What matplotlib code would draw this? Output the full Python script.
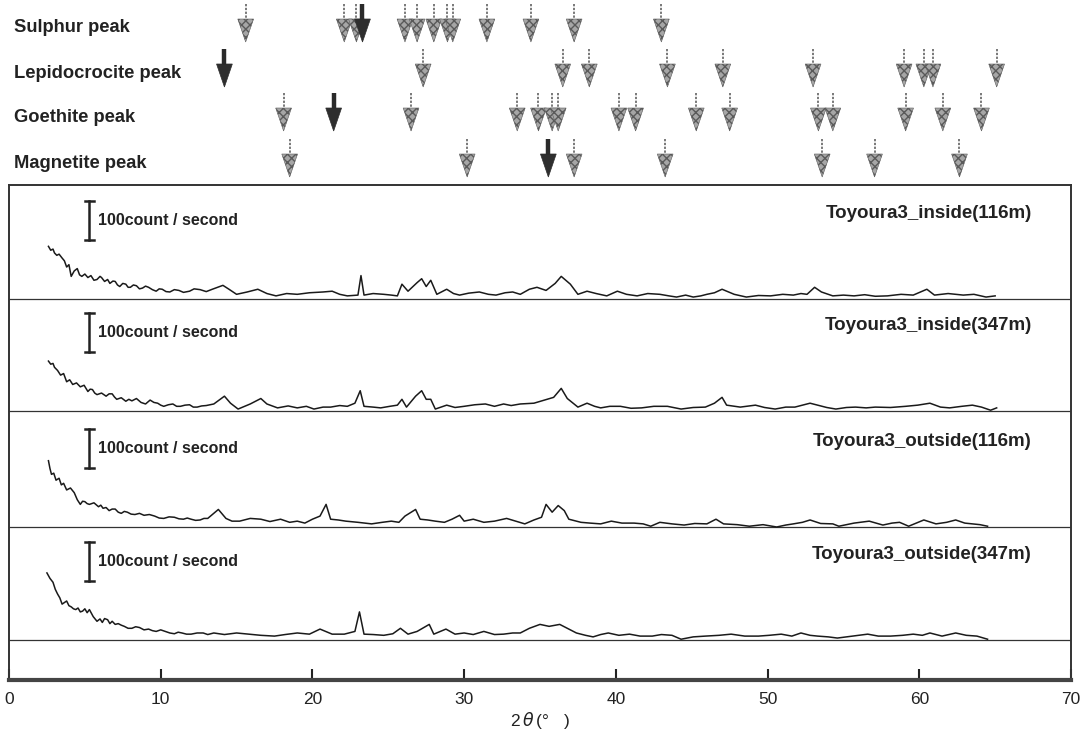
import matplotlib.pyplot as plt
from matplotlib.patches import Polygon

# ---------------------------------------------
# 1. Data (2theta in degrees, intensity in count/second above each baseline)

sample_names = ["Toyoura3_inside(116m)", "Toyoura3_inside(347m)",
                "Toyoura3_outside(116m)", "Toyoura3_outside(347m)"]

theta_in116 = [2.6, 2.75, 2.9, 3.0, 3.15, 3.3, 3.5, 3.65, 3.8, 3.95, 4.1, 4.3, 4.5, 4.65, 4.8, 5.0,
               5.2, 5.4, 5.6, 5.8, 6.0, 6.1, 6.3, 6.5, 6.65, 6.85, 7.0, 7.15, 7.3, 7.5, 7.7, 7.85,
               8.0, 8.2, 8.4, 8.6, 8.8, 9.0, 9.2, 9.45, 9.7, 9.9, 10.1, 10.35, 10.6, 10.9, 11.2, 11.5,
               11.9, 12.2, 12.6, 13.0, 13.4,
               14.1, 14.5, 15.0, 15.7, 16.4, 17.0, 17.6, 18.3, 19.0, 19.8, 20.7, 21.3, 21.8, 22.3,
               23.0, 23.2, 23.4, 24.0, 24.7, 25.2, 25.6, 25.9, 26.3, 26.9, 27.2, 27.5, 27.8, 28.2,
               28.85, 29.3, 29.7, 30.3, 31.0, 31.6, 32.1, 32.7, 33.2, 33.7, 34.3, 34.8, 35.4, 36.0,
               36.4, 37.0, 37.5, 38.1, 38.7, 39.4, 40.1, 40.7, 41.4, 42.1, 42.9, 43.5, 44.0, 44.6,
               45.1, 45.6, 46.0, 46.5, 47.0, 47.8, 48.6, 49.4, 50.2, 51.0, 51.7, 52.2, 52.6, 53.1,
               53.55, 54.3, 55.0, 55.7, 56.4, 57.1, 57.9, 58.8, 59.6, 60.5, 61.0, 61.9, 62.9, 63.6,
               64.4, 65.0]
count_in116 = [135, 125, 128, 118, 112, 115, 105, 98, 82, 88, 58, 72, 78, 62, 58, 64,
               55, 60, 48, 50, 58, 55, 45, 50, 40, 46, 45, 36, 32, 40, 38, 30,
               30, 36, 34, 26, 28, 33, 30, 24, 20, 26, 25, 19, 18, 24, 22, 17,
               20, 26, 24, 19, 25,
               35, 25, 12, 18, 25, 14, 8, 14, 12, 16, 18, 20, 12, 8,
               10, 60, 10, 14, 12, 10, 8, 38, 20, 42, 52, 32, 48, 12,
               25, 14, 10, 15, 18, 12, 10, 16, 18, 12, 25, 30, 22, 40,
               58, 38, 12, 20, 14, 8, 20, 12, 8, 14, 12, 8, 5, 10,
               5, 8, 12, 16, 25, 12, 5, 9, 8, 12, 10, 14, 12, 30,
               18, 8, 10, 8, 11, 7, 8, 12, 10, 25, 10, 14, 10, 12,
               5, 8]

theta_in347 = [2.6, 2.75, 2.9, 3.0, 3.2, 3.4, 3.6, 3.8, 4.0, 4.2, 4.45, 4.7, 4.95, 5.2, 5.35, 5.5,
               5.65, 5.8, 6.1, 6.4, 6.6, 6.8, 6.95, 7.1, 7.4, 7.7, 7.9, 8.1, 8.4, 8.7, 9.0, 9.3,
               9.55, 9.8, 10.0, 10.2, 10.5, 10.8, 11.05, 11.3, 11.6, 11.9, 12.15, 12.4, 12.7, 13.0, 13.5,
               14.2, 14.6, 15.1, 15.9, 16.6, 17.0, 17.7, 18.4, 19.0, 19.6, 20.1, 20.7, 21.2, 21.8,
               22.3, 22.8, 23.15, 23.4, 24.0, 24.5, 25.1, 25.6, 25.9, 26.2, 26.8, 27.2, 27.5, 27.8,
               28.1, 28.85, 29.4, 30.0, 30.7, 31.4, 32.0, 32.6, 33.1, 33.7, 34.6, 35.3, 35.9, 36.4,
               36.8, 37.5, 38.1, 38.6, 39.0, 39.6, 40.3, 41.0, 41.7, 42.5, 43.4, 44.3, 45.1, 45.9,
               46.5, 47.0, 47.3, 48.2, 49.2, 49.8, 50.5, 51.2, 51.8, 52.8, 53.3, 53.9, 54.5, 55.2,
               55.8, 56.5, 57.1, 58.1, 59.1, 59.9, 60.7, 61.4, 62.0, 62.8, 63.5, 64.1, 64.7, 65.1]
count_in347 = [128, 120, 122, 112, 104, 92, 96, 75, 80, 68, 72, 62, 66, 50, 56, 55,
               46, 42, 46, 38, 44, 44, 36, 30, 34, 25, 30, 26, 32, 22, 18, 28,
               22, 20, 15, 12, 16, 18, 12, 12, 15, 16, 10, 10, 13, 14, 18,
               38, 20, 5, 18, 32, 18, 8, 13, 8, 12, 5, 10, 10, 14,
               12, 20, 52, 12, 10, 8, 12, 15, 30, 10, 38, 52, 30, 30,
               5, 15, 9, 12, 16, 18, 12, 18, 14, 18, 20, 28, 35, 58,
               32, 10, 20, 12, 8, 12, 12, 7, 8, 12, 12, 5, 9, 10,
               20, 35, 15, 10, 15, 9, 5, 10, 10, 20, 15, 9, 5, 9,
               10, 8, 10, 9, 12, 15, 20, 10, 8, 12, 15, 10, 2, 8]

theta_out116 = [2.6, 2.7, 2.8, 2.95, 3.1, 3.3, 3.45, 3.6, 3.8, 4.05, 4.3, 4.5, 4.7, 4.85, 5.0, 5.15,
                5.3, 5.6, 5.9, 6.05, 6.2, 6.4, 6.6, 6.8, 7.0, 7.2, 7.4, 7.6, 7.8, 8.05, 8.3, 8.6,
                8.9, 9.25, 9.6, 9.9, 10.2, 10.55, 10.9, 11.2, 11.5, 11.75, 12.0, 12.3, 12.6, 12.85, 13.1,
                13.8, 14.3, 14.7, 15.2, 15.9, 16.6, 17.2, 17.9, 18.5, 19.0, 19.5, 20.0, 20.5, 20.9,
                21.2, 21.7, 22.2, 23.0, 23.9, 24.6, 25.2, 25.7, 26.1, 26.8, 27.1, 27.6, 28.1, 28.7,
                29.2, 29.7, 30.0, 30.6, 31.3, 32.0, 32.8, 33.4, 34.0, 34.6, 35.1, 35.4, 35.8, 36.2,
                36.6, 36.9, 37.7, 38.3, 39.0, 39.7, 40.4, 41.2, 41.8, 42.3, 42.9, 43.7, 44.5, 45.2,
                46.0, 46.6, 47.1, 48.0, 48.8, 49.7, 50.6, 51.2, 51.7, 52.3, 52.8, 53.5, 54.3, 54.7,
                55.7, 56.7, 57.6, 58.2, 58.7, 59.3, 59.8, 60.3, 61.1, 61.8, 62.4, 63.0, 63.5, 64.0,
                64.5]
count_out116 = [170, 150, 135, 138, 120, 125, 108, 112, 95, 100, 88, 70, 58, 66, 65, 60,
                58, 62, 52, 56, 48, 50, 42, 46, 46, 38, 35, 40, 38, 33, 32, 35,
                30, 32, 28, 23, 22, 26, 25, 21, 20, 23, 20, 17, 18, 22, 22,
                45, 22, 15, 15, 22, 20, 14, 20, 12, 15, 10, 20, 28, 58,
                20, 18, 15, 12, 8, 12, 15, 12, 28, 45, 20, 18, 15, 12,
                20, 30, 15, 20, 12, 15, 22, 15, 8, 18, 25, 58, 38, 55,
                42, 20, 12, 10, 8, 15, 10, 10, 8, 2, 12, 8, 5, 9,
                8, 20, 8, 6, 2, 6, 0, 5, 8, 12, 18, 9, 8, 2,
                10, 15, 5, 10, 12, 2, 10, 18, 8, 12, 18, 10, 8, 6,
                2]

theta_out347 = [2.5, 2.7, 2.9, 3.05, 3.2, 3.35, 3.5, 3.65, 3.8, 3.95, 4.1, 4.25, 4.4, 4.55, 4.7, 4.85,
                5.0, 5.15, 5.3, 5.55, 5.8, 6.0, 6.15, 6.3, 6.5, 6.65, 6.8, 7.0, 7.2, 7.4, 7.6, 7.85,
                8.1, 8.35, 8.6, 8.9, 9.2, 9.45, 9.7, 10.0, 10.3, 10.6, 10.9, 11.15, 11.4, 11.7, 12.0,
                12.4, 12.8, 13.1, 13.5,
                14.2, 15.0, 15.8, 16.6, 17.5, 18.2, 19.0, 19.8, 20.5, 21.3, 22.1, 22.8, 23.1, 23.4,
                24.0, 24.7, 25.3, 25.8, 26.3, 26.9, 27.7, 28.0, 28.8, 29.4, 30.0, 30.6, 31.3, 32.0,
                32.6, 33.2, 33.7, 34.3, 35.0, 35.6, 36.3, 36.8, 37.4, 38.0, 38.5, 39.0, 39.5, 40.2,
                40.9, 41.6, 42.4, 43.0, 43.7, 44.3, 45.1, 45.9, 46.8, 47.6, 48.5, 49.4, 50.1, 50.9,
                51.6, 52.2, 52.8, 53.3, 54.0, 54.6, 55.6, 56.6, 57.3, 58.1, 58.9, 59.6, 60.2, 60.7,
                61.5, 62.4, 63.1, 63.8, 64.5]
count_out347 = [172, 158, 148, 130, 118, 108, 92, 96, 100, 88, 85, 80, 78, 82, 72, 74,
                80, 70, 78, 60, 48, 54, 45, 55, 52, 42, 48, 40, 42, 38, 35, 30,
                30, 34, 32, 26, 28, 24, 22, 26, 22, 18, 16, 20, 18, 15, 15,
                18, 18, 14, 18,
                14, 18, 15, 12, 10, 14, 18, 15, 28, 15, 15, 22, 72, 15,
                14, 12, 16, 30, 15, 22, 40, 15, 28, 15, 18, 14, 22, 14,
                15, 18, 18, 30, 40, 35, 40, 30, 18, 12, 8, 14, 18, 12,
                15, 10, 10, 14, 12, 2, 8, 10, 12, 15, 10, 10, 12, 15,
                10, 18, 12, 10, 8, 5, 10, 15, 10, 10, 12, 15, 12, 18,
                10, 18, 12, 10, 2]

sample_thetas = [theta_in116, theta_in347, theta_out116, theta_out347]
sample_counts = [count_in116, count_in347, count_out116, count_out347]
for t, c in zip(sample_thetas, sample_counts):
    assert len(t) == len(c)

# reference peak positions (2theta), the dark arrows are the strongest line
peak_names = ["Sulphur peak", "Lepidocrocite peak", "Goethite peak", "Magnetite peak"]
sulphur_peaks = [15.6, 22.1, 22.9, 26.1, 26.9, 28.0, 28.9, 29.25, 31.5, 34.4, 37.25, 43.0]
sulphur_main = [23.3]
lepidocrocite_peaks = [27.3, 36.5, 38.25, 43.4, 47.05, 53.0, 59.0, 60.3, 60.9, 65.1]
lepidocrocite_main = [14.2]
goethite_peaks = [18.1, 26.5, 33.5, 34.9, 35.8, 36.2, 40.2, 41.3, 45.3, 47.5, 53.35, 54.3,
                  59.1, 61.55, 64.1]
goethite_main = [21.4]
magnetite_peaks = [18.5, 30.2, 37.25, 43.25, 53.6, 57.05, 62.65]
magnetite_main = [35.55]

peak_lists = [sulphur_peaks, lepidocrocite_peaks, goethite_peaks, magnetite_peaks]
main_lists = [sulphur_main, lepidocrocite_main, goethite_main, magnetite_main]

x_ticks = [0, 10, 20, 30, 40, 50, 60, 70]
scale_bar_counts = 100

# ---------------------------------------------
# 2. Layout (pixels of the 1084x743 output)

W, H = 1084, 743
box_left, box_right, box_top, box_bottom = 9, 1071, 185, 680
px_per_count = 0.39
baselines_px = [299, 411, 527, 640]
row_tip_px = [42, 87, 131, 177]
ink = '#222222'

plt.rcParams['font.family'] = ['Liberation Sans', 'DejaVu Sans']

fig = plt.figure(figsize=(W / 100, H / 100), dpi=100)
ax = fig.add_axes([box_left / W, 1 - box_bottom / H,
                   (box_right - box_left) / W, (box_bottom - box_top) / H])
ymax = (box_bottom - box_top) / px_per_count
ax.set_xlim(0, 70)
ax.set_ylim(0, ymax)

for i in range(4):
    off = (box_bottom - baselines_px[i]) / px_per_count
    ax.axhline(off, color='#333333', lw=0.9, zorder=1)
    ax.plot(sample_thetas[i], [off + c for c in sample_counts[i]], color='#1a1a1a', lw=1.1, zorder=2)
    # 100 count/second scale bar
    bar_lo = off + 152
    ax.plot([5.3, 5.3], [bar_lo, bar_lo + scale_bar_counts], color=ink, lw=1.8)
    ax.plot([5.0, 5.6], [bar_lo, bar_lo], color=ink, lw=1.8)
    ax.plot([5.0, 5.6], [bar_lo + scale_bar_counts, bar_lo + scale_bar_counts], color=ink, lw=1.8)
    ax.text(5.85, bar_lo + scale_bar_counts / 2, "100count / second", fontsize=11.5,
            fontweight='bold', va='center', ha='left', color=ink)
    ax.text(67.4, off + 220, sample_names[i], fontsize=13.5, fontweight='bold',
            ha='right', va='center', color=ink)

ax.set_xticks(x_ticks)
ax.set_yticks([])
ax.tick_params(axis='x', direction='in', length=8, width=1.5, labelsize=12.5, pad=9,
               colors=ink)
for s in ['left', 'right', 'top']:
    ax.spines[s].set_linewidth(1.4)
    ax.spines[s].set_color('#333333')
ax.spines['bottom'].set_linewidth(3.0)
ax.spines['bottom'].set_color('#444444')
ax.set_xlabel(r"2$\,\theta\,$(°   )", fontsize=12.5, labelpad=2, color=ink)

# ---------------------------------------------
# 3. Peak marker rows

ax_top = fig.add_axes([box_left / W, 1 - box_top / H, (box_right - box_left) / W, box_top / H])
ax_top.set_xlim(0, 70)
ax_top.set_ylim(box_top, 0)
ax_top.axis('off')

half_w = 0.52
tri_h = 23
stem_h = 15
for r in range(4):
    tip = row_tip_px[r]
    fig.text(14 / W, 1 - (tip - 14) / H, peak_names[r], fontsize=13.2, fontweight='bold',
             ha='left', va='center', color=ink)
    for p in peak_lists[r]:
        ax_top.plot([p, p], [tip - tri_h - stem_h, tip - tri_h], color='#555555', lw=1.1,
                    ls=(0, (1.5, 1)))
        tri = Polygon([(p - half_w, tip - tri_h), (p + half_w, tip - tri_h), (p, tip)],
                      closed=True, facecolor='#a6a6a6', edgecolor='#5a5a5a', lw=0.4,
                      hatch='xxxx')
        ax_top.add_patch(tri)
    for p in main_lists[r]:
        ax_top.plot([p, p], [tip - tri_h - stem_h, tip - tri_h + 1], color='#2a2a2a', lw=3.2,
                    solid_capstyle='butt')
        tri = Polygon([(p - half_w, tip - tri_h), (p + half_w, tip - tri_h), (p, tip)],
                      closed=True, facecolor='#2e2e2e', edgecolor='#2e2e2e', lw=0.5)
        ax_top.add_patch(tri)

fig.savefig("out.png", dpi=100)
